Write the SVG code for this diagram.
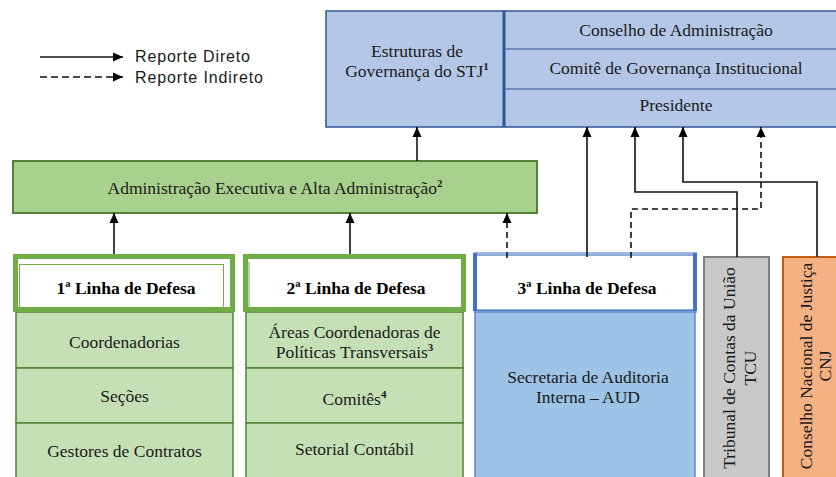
<svg xmlns="http://www.w3.org/2000/svg" width="836" height="477" viewBox="0 0 836 477">
<style>
.t{font-family:'Liberation Serif','Tinos','Times','DejaVu Serif',serif;font-size:17.5px;fill:#1a1a1a;text-anchor:middle}
.b{font-weight:bold;fill:#000}
.sup{font-size:11px;font-weight:bold}
.leg{font-family:'Liberation Sans',sans-serif;font-size:16px;fill:#1a1a1a}
.cn{fill:none;stroke:#111;stroke-width:1.6}
.ds{stroke-dasharray:6,4}
.cell{fill:#C5E0B4;stroke:#548235;stroke-width:1.5}
</style>
<defs>
<marker id="ah" markerUnits="userSpaceOnUse" markerWidth="10" markerHeight="10" viewBox="0 0 10 10" refX="10" refY="5" orient="auto">
<path d="M0,0.5 L10,5 L0,9.5 Z" fill="#000"/>
</marker>
</defs>
<rect width="836" height="477" fill="#fff"/>

<g id="legend">
<line class="cn" x1="40" y1="57" x2="123" y2="57" marker-end="url(#ah)"/>
<line class="cn" x1="40" y1="77" x2="123" y2="77" stroke-dasharray="7,4" marker-end="url(#ah)"/>
<text class="leg" x="135" y="62" textLength="115">Reporte Direto</text>
<text class="leg" x="135" y="83" textLength="128">Reporte Indireto</text>
</g>

<g id="governanca">
<rect x="326" y="11" width="520" height="116" fill="#B4C7E7" stroke="#2F5597" stroke-width="1.5"/>
<line x1="504" y1="11" x2="504" y2="127" stroke="#2F5597" stroke-width="3"/>
<line x1="504" y1="49" x2="836" y2="49" stroke="#2F5597" stroke-width="1.2"/>
<line x1="504" y1="89" x2="836" y2="89" stroke="#2F5597" stroke-width="1.2"/>
<text class="t" font-family="Liberation Serif" x="417" y="57">Estruturas de</text>
<text class="t" font-family="Liberation Serif" x="417" y="77">Governança do STJ<tspan class="sup" dy="-7">1</tspan></text>
<text class="t" x="676" y="36">Conselho de Administração</text>
<text class="t" x="676" y="74">Comitê de Governança Institucional</text>
<text class="t" x="676" y="111">Presidente</text>
</g>

<g id="admin">
<rect x="13" y="161" width="524" height="52" fill="#A9D18E" stroke="#548235" stroke-width="2"/>
<text class="t" x="275" y="194">Administração Executiva e Alta Administração<tspan class="sup" dy="-7">2</tspan></text>
</g>

<g id="linha1">
<rect x="16" y="312" width="217" height="56" class="cell"/>
<rect x="16" y="368" width="217" height="55" class="cell"/>
<rect x="16" y="423" width="217" height="60" class="cell"/>
<rect x="15.5" y="256.5" width="217" height="53" fill="#fff" stroke="#70AD47" stroke-width="5"/>
<rect x="19.5" y="264.5" width="204" height="43" fill="none" stroke="#70AD47" stroke-width="1"/>
<text class="t b" x="126" y="294">1ª Linha de Defesa</text>
<text class="t" x="124.5" y="348">Coordenadorias</text>
<text class="t" x="124.5" y="402">Seções</text>
<text class="t" x="124.5" y="457">Gestores de Contratos</text>
</g>

<g id="linha2">
<rect x="246" y="312" width="217" height="56" class="cell"/>
<rect x="246" y="368" width="217" height="55" class="cell"/>
<rect x="246" y="423" width="217" height="60" class="cell"/>
<rect x="245.5" y="256.5" width="218" height="53" fill="#fff" stroke="#70AD47" stroke-width="5"/>
<line x1="249" y1="262" x2="249" y2="307" stroke="#70AD47" stroke-width="1"/>
<text class="t b" x="356" y="294">2ª Linha de Defesa</text>
<text class="t" x="354.5" y="338">Áreas Coordenadoras de</text>
<text class="t" x="354.5" y="358">Políticas Transversais<tspan class="sup" dy="-7">3</tspan></text>
<text class="t" x="354.5" y="405">Comitês<tspan class="sup" dy="-7">4</tspan></text>
<text class="t" x="354.5" y="455">Setorial Contábil</text>
</g>

<g id="linha3">
<rect x="475" y="310" width="220" height="175" fill="#9DC3E6" stroke="#4472C4" stroke-width="1.2"/>
<rect x="474" y="255" width="222" height="55" fill="#fff" stroke="#4472C4" stroke-width="1.2"/>
<line x1="474" y1="253" x2="697" y2="253" stroke="#4472C4" stroke-width="1"/>
<line x1="474" y1="312" x2="697" y2="312" stroke="#4472C4" stroke-width="1"/>
<line x1="475" y1="253" x2="475" y2="311" stroke="#4472C4" stroke-width="4"/>
<line x1="695" y1="253" x2="695" y2="311" stroke="#4472C4" stroke-width="4"/>
<text class="t b" x="587" y="294">3ª Linha de Defesa</text>
<text class="t" x="588" y="383">Secretaria de Auditoria</text>
<text class="t" x="588" y="403">Interna – AUD</text>
</g>

<g id="tcu">
<rect x="704" y="257" width="65" height="230" fill="#C9C9C9" stroke="#7F7F7F" stroke-width="2"/>
<text class="t" transform="translate(735,368) rotate(-90)">Tribunal de Contas da União</text>
<text class="t" transform="translate(756,368) rotate(-90)">TCU</text>
</g>

<g id="cnj">
<rect x="783" y="257" width="70" height="230" fill="#F4B183" stroke="#C55A11" stroke-width="2"/>
<text class="t" transform="translate(812,366) rotate(-90)">Conselho Nacional de Justiça</text>
<text class="t" transform="translate(831,366) rotate(-90)">CNJ</text>
</g>

<g id="connectors">
<line class="cn" x1="417" y1="161" x2="417" y2="127" marker-end="url(#ah)"/>
<line class="cn" x1="114" y1="254" x2="114" y2="213" marker-end="url(#ah)"/>
<line class="cn" x1="350" y1="254" x2="350" y2="213" marker-end="url(#ah)"/>
<line class="cn ds" x1="507" y1="258" x2="507" y2="213" marker-end="url(#ah)"/>
<line class="cn" x1="587" y1="257" x2="587" y2="127" marker-end="url(#ah)"/>
<path class="cn" d="M737,257 V192 H635 V127" marker-end="url(#ah)"/>
<path class="cn" d="M817,257 V182 H683 V127" marker-end="url(#ah)"/>
<path class="cn ds" d="M631,258 V209 H761 V127" marker-end="url(#ah)"/>
</g>
</svg>
